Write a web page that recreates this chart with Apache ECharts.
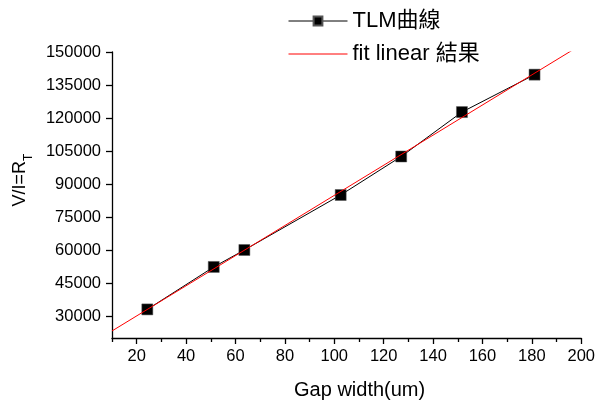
<!DOCTYPE html>
<html>
<head>
<meta charset="utf-8">
<script src="https://cdn.jsdelivr.net/npm/echarts@6/dist/echarts.min.js"></script>
<style>
html,body{margin:0;padding:0;background:#fff;}
#chart{width:598px;height:408px;}
</style>
</head>
<body>
<div id="chart"></div>
<script>
// Data
var gapWidth = [24.3, 51.2, 63.6, 102.6, 127.1, 151.7, 181.1];
var resistance = [33000, 52300, 60000, 85000, 102500, 122700, 139700];
var fitX = [10, 200];
var fitY = [23200, 153300];
var xTicks = [20, 40, 60, 80, 100, 120, 140, 160, 180, 200];
var xMinorTicks = [10, 30, 50, 70, 90, 110, 130, 150, 170, 190];
var yTicks = [30000, 45000, 60000, 75000, 90000, 105000, 120000, 135000, 150000];
var seriesNames = ['TLM曲線', 'fit linear 結果'];

var FONT = '"Liberation Sans", Arial, "Noto Sans CJK TC", sans-serif';

var tlmData = gapWidth.map(function (x, i) { return [x, resistance[i]]; });
var fitData = fitX.map(function (x, i) { return [x, fitY[i]]; });

var chart = echarts.init(document.getElementById('chart'), null, {renderer: 'canvas'});
chart.setOption({
  animation: false,
  backgroundColor: '#ffffff',
  textStyle: {fontFamily: FONT, color: '#000'},
  legend: {
    orient: 'vertical',
    left: 288,
    top: 10,
    padding: 0,
    itemWidth: 59,
    itemHeight: 11,
    itemGap: 11,
    lineStyle: {width: 1},
    data: [
      {name: seriesNames[0]},
      {name: seriesNames[1], itemStyle: {opacity: 0}}
    ],
    textStyle: {fontFamily: FONT, fontSize: 22, color: '#000'}
  },
  grid: {left: 112, right: 15, top: 52, bottom: 70, containLabel: false},
  xAxis: [{
    type: 'value',
    min: 10, max: 200,
    name: 'Gap width(um)',
    nameLocation: 'middle',
    nameGap: 42,
    nameTextStyle: {fontFamily: FONT, fontSize: 20, color: '#000', padding: [0, 0, 0, 26]},
    axisLine: {show: true, onZero: false, lineStyle: {color: '#000', width: 1.3}},
    axisTick: {show: true, customValues: xTicks, length: 6, lineStyle: {color: '#000', width: 1.3}},
    axisLabel: {customValues: xTicks, fontFamily: FONT, fontSize: 16.5, color: '#000', margin: 10},
    splitLine: {show: false}
  }, {
    type: 'value',
    min: 10, max: 200,
    position: 'bottom',
    axisLine: {show: false},
    axisTick: {show: true, customValues: xMinorTicks, length: 4, lineStyle: {color: '#000', width: 1.3}},
    axisLabel: {show: false},
    splitLine: {show: false}
  }],
  yAxis: {
    type: 'value',
    min: 20000, max: 150000,
    name: '{a|V/I=R}{s|T}',
    nameLocation: 'middle',
    nameRotate: 90,
    nameGap: 80,
    nameTextStyle: {
      fontFamily: FONT, fontSize: 18, color: '#000',
      padding: [0, 0, 0, 30],
      rich: {
        a: {fontFamily: FONT, fontSize: 18, lineHeight: 18, color: '#000', verticalAlign: 'top'},
        s: {fontFamily: FONT, fontSize: 12, lineHeight: 12, color: '#000', verticalAlign: 'top', padding: [12, 0, 0, 0]}
      }
    },
    axisLine: {show: true, onZero: false, lineStyle: {color: '#000', width: 1.3}},
    axisTick: {show: true, customValues: yTicks, length: 6, lineStyle: {color: '#000', width: 1.3}},
    axisLabel: {
      customValues: yTicks, fontFamily: FONT, fontSize: 16.5, color: '#000', margin: 11,
      formatter: function (v) { return String(v); }
    },
    splitLine: {show: false}
  },
  series: [{
    name: seriesNames[0],
    type: 'line',
    data: tlmData,
    symbol: 'rect',
    symbolSize: 11,
    lineStyle: {color: '#000', width: 1},
    itemStyle: {color: '#000', borderColor: '#555', borderWidth: 0.5},
    z: 2
  }, {
    name: seriesNames[1],
    type: 'line',
    data: fitData,
    symbol: 'none',
    showSymbol: false,
    clip: true,
    lineStyle: {color: '#ff0000', width: 1},
    itemStyle: {color: '#ff0000'},
    z: 3
  }]
});
</script>
</body>
</html>
